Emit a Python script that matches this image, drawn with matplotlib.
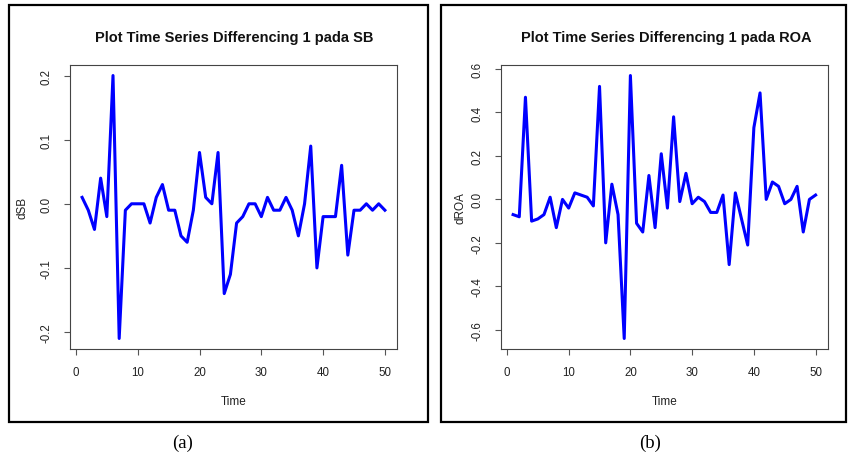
import matplotlib
matplotlib.use("Agg")
import matplotlib.pyplot as plt
from matplotlib.patches import Rectangle
import numpy as np

time = list(range(1, 51))

d_sb = [0.01, -0.01, -0.04, 0.04, -0.02, 0.20, -0.21, -0.01, 0.00, 0.00,
        0.00, -0.03, 0.01, 0.03, -0.01, -0.01, -0.05, -0.06, -0.01, 0.08,
        0.01, 0.00, 0.08, -0.14, -0.11, -0.03, -0.02, 0.00, 0.00, -0.02,
        0.01, -0.01, -0.01, 0.01, -0.01, -0.05, 0.00, 0.09, -0.10, -0.02,
        -0.02, -0.02, 0.06, -0.08, -0.01, -0.01, 0.00, -0.01, 0.00, -0.01]

d_roa = [-0.07, -0.08, 0.47, -0.10, -0.09, -0.07, 0.01, -0.13, 0.00, -0.04,
         0.03, 0.02, 0.01, -0.03, 0.52, -0.20, 0.07, -0.07, -0.64, 0.57,
         -0.11, -0.15, 0.11, -0.13, 0.21, -0.04, 0.38, -0.01, 0.12, -0.02,
         0.01, -0.01, -0.06, -0.06, 0.02, -0.30, 0.03, -0.09, -0.21, 0.33,
         0.49, 0.00, 0.08, 0.06, -0.02, 0.00, 0.06, -0.15, 0.00, 0.02]

titles = ["Plot Time Series Differencing 1 pada SB",
          "Plot Time Series Differencing 1 pada ROA"]
ylabels = ["dSB", "dROA"]
xlabel = "Time"
captions = ["(a)", "(b)"]
xticks = [0, 10, 20, 30, 40, 50]
yticks_sb = [-0.2, -0.1, 0.0, 0.1, 0.2]
yticks_roa = [-0.6, -0.4, -0.2, 0.0, 0.2, 0.4, 0.6]

W, H = 848, 456
fig = plt.figure(figsize=(W / 100, H / 100), dpi=100)
plt.rcParams['font.family'] = ['Liberation Sans', 'DejaVu Sans']

def fx(px):
    return px / W

def fy(py):
    return 1 - py / H

axes_px = [(70, 66, 397, 350), (501, 66, 827.7, 350)]
frames_px = [(9, 6, 428, 423), (441, 6, 846, 423)]
caption_x = [183, 650]
ylab_x = [22, 461]
title_x = [234, 666]

series = [d_sb, d_roa]
yticks_all = [yticks_sb, yticks_roa]

for i in range(2):
    x0, y0, x1, y1 = frames_px[i]
    fig.patches.append(Rectangle((fx(x0), fy(y1)), fx(x1 - x0), (y1 - y0) / H,
                                 transform=fig.transFigure, fill=False,
                                 edgecolor='black', linewidth=1.6))
    ax0, ay0, ax1, ay1 = axes_px[i]
    ax = fig.add_axes([fx(ax0), fy(ay1), fx(ax1 - ax0), (ay1 - ay0) / H])
    vals = series[i]
    ax.plot(time, vals, color='#0000FF', linewidth=2.2)
    rng = max(vals) - min(vals)
    ax.set_ylim(min(vals) - 0.04 * rng, max(vals) + 0.04 * rng)
    ax.set_xlim(1 - 0.04 * 49, 50 + 0.04 * 49)
    ax.set_xticks(xticks)
    ax.set_yticks(yticks_all[i])
    ax.set_yticklabels([f"{v:.1f}" for v in yticks_all[i]], rotation=90,
                       va='center')
    ax.set_xticklabels([str(v) for v in xticks])
    for s in ax.spines.values():
        s.set_color('#444444')
        s.set_linewidth(0.8)
    ax.tick_params(axis='both', direction='out', length=4.3, width=0.8,
                   color='#555555', labelsize=8.3, labelcolor='#222222')
    ax.tick_params(axis='x', pad=8)
    ax.tick_params(axis='y', pad=8)
    ax.set_xlabel(xlabel, fontsize=8.5, color='#222222')
    ax.xaxis.set_label_coords(0.5, -(402 - ay1) / (ay1 - ay0))
    ax.xaxis.label.set_va('center')
    ax.set_ylabel(ylabels[i], fontsize=8.5, color='#222222')
    ax.yaxis.set_label_coords((ylab_x[i] - ax0) / (ax1 - ax0), 0.5)
    ax.yaxis.label.set_va('center')
    fig.text(fx(title_x[i]), fy(38), titles[i], ha='center',
             va='center', fontsize=10.5, fontweight='bold', color='#111111')
    fig.text(fx(caption_x[i]), fy(443), captions[i], ha='center', va='center',
             fontsize=13.5, family=['Liberation Serif', 'DejaVu Serif'])

fig.savefig("out.png", dpi=100)
